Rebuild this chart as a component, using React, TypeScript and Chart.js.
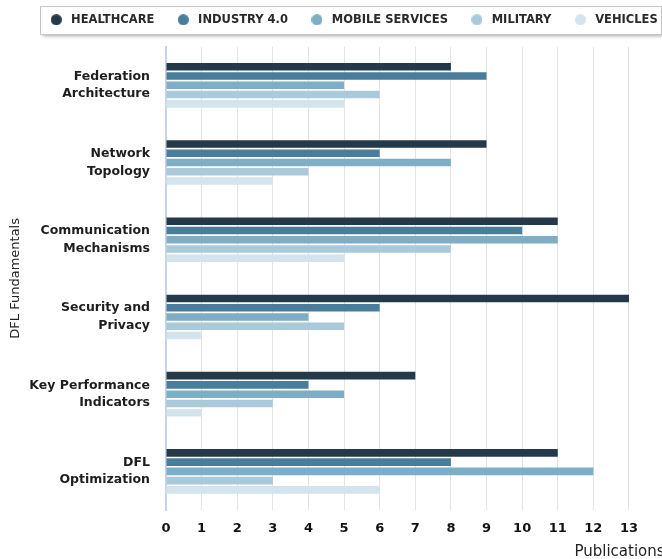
import React, { useEffect, useLayoutEffect, useRef } from 'react';
import { Chart, registerables } from 'chart.js';

Chart.register(...registerables);
Chart.defaults.font.family = "'DejaVu Sans', sans-serif";

const categories: string[][] = [
  ['Federation', 'Architecture'],
  ['Network', 'Topology'],
  ['Communication', 'Mechanisms'],
  ['Security and', 'Privacy'],
  ['Key Performance', 'Indicators'],
  ['DFL', 'Optimization'],
];

const seriesNames = ['HEALTHCARE', 'INDUSTRY 4.0', 'MOBILE SERVICES', 'MILITARY', 'VEHICLES'];

const healthcare = [8, 9, 11, 13, 7, 11];
const industry40 = [9, 6, 10, 6, 4, 8];
const mobileServices = [5, 8, 11, 4, 5, 12];
const military = [6, 4, 8, 5, 3, 3];
const vehicles = [5, 3, 5, 1, 1, 6];

const xTickLabels = ['0', '1', '2', '3', '4', '5', '6', '7', '8', '9', '10', '11', '12', '13'];

const seriesColors = ['#243a4b', '#4a7d9c', '#7eaec6', '#aac9db', '#d3e4ed'];

function makeDot(color: string): HTMLCanvasElement {
  const c = document.createElement('canvas');
  c.width = 11;
  c.height = 11;
  const g = c.getContext('2d')!;
  g.fillStyle = color;
  g.beginPath();
  g.arc(5.5, 5.5, 5.5, 0, Math.PI * 2);
  g.fill();
  return c;
}

const legendBox = {
  id: 'legendBox',
  beforeDraw(chart: any) {
    const hb = chart.legend && chart.legend.legendHitBoxes;
    if (!hb || !hb.length) return;
    const ctx = chart.ctx;
    const first = hb[0];
    const last = hb[hb.length - 1];
    const x = Math.round(first.left - 7.5) + 0.5;
    const y = Math.round(first.top - 8) + 0.5;
    const w = Math.round(last.left + last.width + 4 - x);
    const h = 28;
    ctx.save();
    ctx.shadowColor = 'rgba(0,0,0,0.28)';
    ctx.shadowBlur = 3;
    ctx.shadowOffsetX = 1;
    ctx.shadowOffsetY = 2;
    ctx.fillStyle = '#ffffff';
    ctx.fillRect(x, y, w, h);
    ctx.restore();
    ctx.save();
    ctx.strokeStyle = '#c6c6c6';
    ctx.lineWidth = 1;
    ctx.strokeRect(x, y, w, h);
    ctx.restore();
  },
};

export default function App() {
  const ref = useRef<HTMLCanvasElement | null>(null);

  useLayoutEffect(() => {
    document.body.style.margin = '0';
  }, []);

  useEffect(() => {
    if (!ref.current) return;
    const seriesValues = [healthcare, industry40, mobileServices, military, vehicles];
    const dots = seriesColors.map(makeDot);
    const chart = new Chart(ref.current, {
      type: 'bar',
      data: {
        labels: categories,
        datasets: seriesNames.map((name, i) => ({
          label: name,
          data: seriesValues[i],
          backgroundColor: seriesColors[i],
          borderWidth: 0,
          barPercentage: 0.82,
          categoryPercentage: 0.6,
          yAxisID: 'y',
        })),
      },
      options: {
        indexAxis: 'y',
        animation: false,
        responsive: false,
        maintainAspectRatio: false,
        layout: { padding: 0 },
        plugins: {
          tooltip: { enabled: false },
          legend: {
            display: true,
            position: 'top',
            align: 'center',
            labels: {
              usePointStyle: true,
              pointStyleWidth: 18,
              boxHeight: 11,
              padding: 20,
              color: '#2a2a2a',
              font: { size: 11.5, weight: 'bold' },
              generateLabels: (c: any) => {
                const items = (Chart.defaults.plugins.legend.labels as any).generateLabels(c);
                return items.map((it: any) => ({ ...it, pointStyle: dots[it.datasetIndex] }));
              },
            },
          },
          title: {
            display: true,
            text: '',
            weight: 500,
            font: { size: 1, lineHeight: 1 },
            padding: { top: 0, bottom: 10.2 },
          } as any,
        },
        scales: {
          x: {
            type: 'linear',
            position: 'bottom',
            min: 0,
            max: 14,
            ticks: {
              stepSize: 1,
              autoSkip: false,
              maxRotation: 0,
              padding: 10.5,
              color: '#111111',
              font: { size: 13, weight: 'bold' },
              callback: (v: any) => xTickLabels[Number(v)] ?? '',
            },
            grid: { color: '#e3e3e3', lineWidth: 1, drawTicks: false },
            border: { display: false },
            title: {
              display: true,
              text: 'Publications',
              align: 'end',
              color: '#222222',
              font: { size: 15 },
              padding: { top: 6.4, bottom: 4 },
            },
            afterFit: (s: any) => {
              s.height = 55;
            },
          },
          y: {
            type: 'category',
            position: 'left',
            ticks: {
              padding: 16,
              color: '#1e1e1e',
              font: { size: 12.5, weight: 'bold', lineHeight: 1.4 },
            },
            grid: { display: false, drawTicks: false },
            border: { display: true, color: '#c9d3e8', width: 2 },
            title: {
              display: true,
              text: 'DFL Fundamentals',
              color: '#222222',
              font: { size: 13 },
              padding: { top: 0, bottom: 0 },
            },
            afterFit: (s: any) => {
              s.width = 158;
            },
          },
          yRightSpace: {
            type: 'category',
            position: 'right',
            display: true,
            ticks: { display: false },
            grid: { display: false, drawTicks: false },
            border: { display: false },
            afterFit: (s: any) => {
              s.width = 32.4;
            },
          },
        },
      },
      plugins: [legendBox],
    } as any);
    return () => chart.destroy();
  }, []);

  return (
    <div style={{ position: 'relative', width: 662, height: 559, overflow: 'hidden' }}>
      <canvas
        ref={ref}
        width={689}
        height={571}
        style={{ position: 'absolute', left: 8, top: -6, width: 689, height: 571 }}
      />
    </div>
  );
}
